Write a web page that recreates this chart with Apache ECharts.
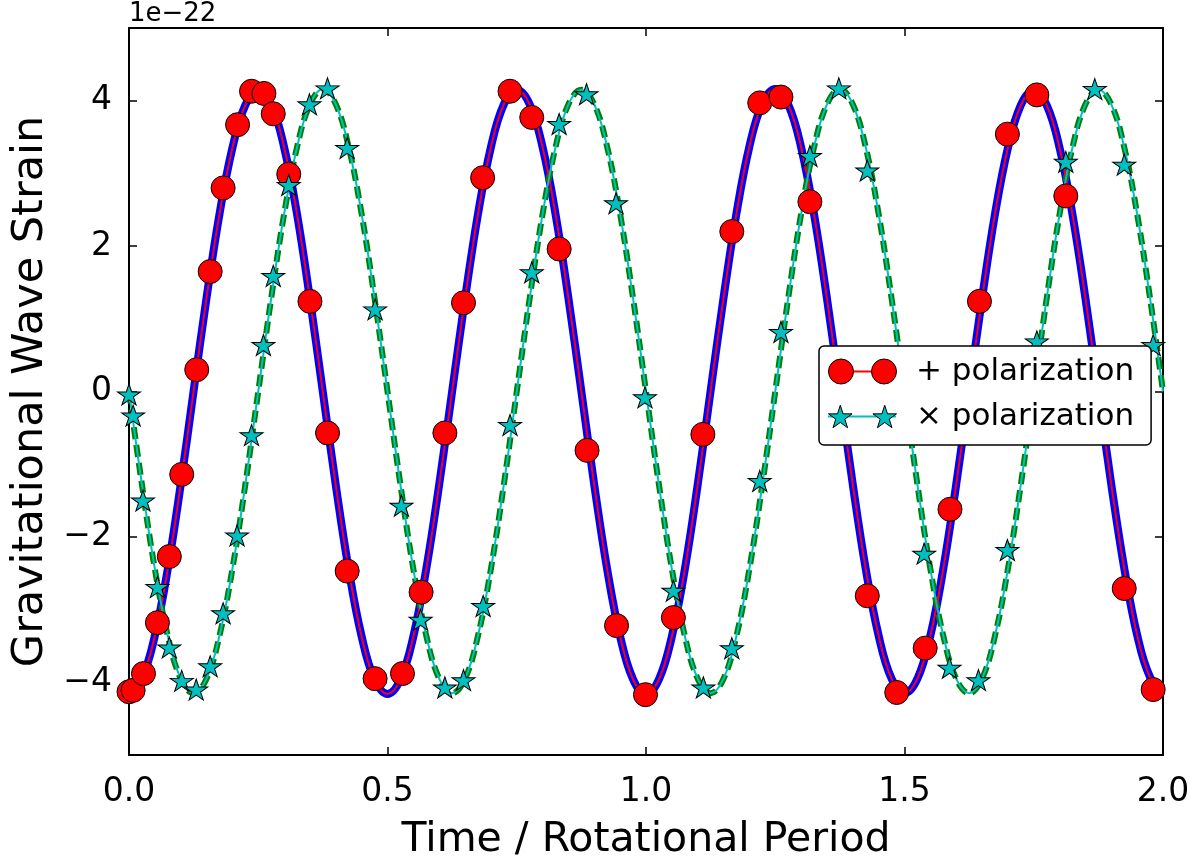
<!DOCTYPE html>
<html>
<head>
<meta charset="utf-8">
<script src="https://cdn.jsdelivr.net/npm/echarts/dist/echarts.min.js"></script>
<style>
  html, body { margin: 0; padding: 0; background: #ffffff; }
  #chart { width: 1198px; height: 866px; }
</style>
</head>
<body>
<div id="chart"></div>
<script>
// ---- data (values in units of 1e-22) ----
const curveTime = [0, 0.025, 0.05, 0.075, 0.1, 0.125, 0.15, 0.175, 0.2, 0.225,
  0.25, 0.275, 0.3, 0.325, 0.35, 0.375, 0.4, 0.425, 0.45, 0.475,
  0.5, 0.525, 0.55, 0.575, 0.6, 0.625, 0.65, 0.675, 0.7, 0.725,
  0.75, 0.775, 0.8, 0.825, 0.85, 0.875, 0.9, 0.925, 0.95, 0.975,
  1.0, 1.025, 1.05, 1.075, 1.1, 1.125, 1.15, 1.175, 1.2, 1.225,
  1.25, 1.275, 1.3, 1.325, 1.35, 1.375, 1.4, 1.425, 1.45, 1.475,
  1.5, 1.525, 1.55, 1.575, 1.6, 1.625, 1.65, 1.675, 1.7, 1.725,
  1.75, 1.775, 1.8, 1.825, 1.85, 1.875, 1.9, 1.925, 1.95, 1.975, 2.0];

const plusCurve = [-4.13, -3.94, -3.36, -2.44, -1.28, 0.01, 1.29, 2.44, 3.35, 3.94,
  4.14, 3.95, 3.36, 2.44, 1.27, -0.01, -1.29, -2.45, -3.37, -3.96,
  -4.16, -3.96, -3.37, -2.44, -1.28, 0, 1.28, 2.44, 3.36, 3.95,
  4.15, 3.95, 3.36, 2.44, 1.28, 0, -1.29, -2.45, -3.37, -3.96,
  -4.17, -3.96, -3.37, -2.45, -1.28, 0.01, 1.29, 2.45, 3.37, 3.96,
  4.16, 3.95, 3.36, 2.44, 1.28, 0, -1.28, -2.44, -3.36, -3.95,
  -4.15, -3.95, -3.36, -2.44, -1.28, 0, 1.28, 2.44, 3.35, 3.94,
  4.14, 3.94, 3.35, 2.43, 1.28, 0, -1.28, -2.43, -3.35, -3.93, -4.12];

const crossCurve = [0, -1.28, -2.44, -3.36, -3.95, -4.15, -3.95, -3.36, -2.44, -1.28,
  0, 1.28, 2.44, 3.36, 3.95, 4.16, 3.95, 3.36, 2.44, 1.28,
  0, -1.28, -2.44, -3.36, -3.95, -4.15, -3.95, -3.36, -2.44, -1.28,
  0, 1.28, 2.44, 3.36, 3.95, 4.15, 3.95, 3.36, 2.44, 1.28,
  0, -1.28, -2.44, -3.36, -3.95, -4.15, -3.95, -3.36, -2.44, -1.28,
  0, 1.28, 2.44, 3.36, 3.95, 4.16, 3.95, 3.36, 2.44, 1.28,
  0, -1.28, -2.44, -3.36, -3.95, -4.15, -3.95, -3.36, -2.44, -1.28,
  0, 1.28, 2.44, 3.36, 3.95, 4.15, 3.95, 3.36, 2.44, 1.28, 0];

const plusMarkTime = [0, 0.008, 0.028, 0.055, 0.078, 0.102, 0.131, 0.157, 0.182, 0.210,
  0.237, 0.261, 0.279, 0.309, 0.350, 0.384, 0.422, 0.476, 0.529, 0.565,
  0.611, 0.647, 0.684, 0.737, 0.779, 0.832, 0.886, 0.943, 0.999, 1.053,
  1.110, 1.166, 1.220, 1.261, 1.317, 1.428, 1.485, 1.540, 1.588, 1.645,
  1.699, 1.756, 1.812, 1.925, 1.981];
const plusMarkValue = [-4.13, -4.11, -3.88, -3.18, -2.27, -1.14, 0.30, 1.65, 2.80, 3.67,
  4.13, 4.10, 3.82, 2.99, 1.24, -0.57, -2.47, -3.95, -3.88, -2.76,
  -0.57, 1.22, 2.94, 4.13, 3.77, 1.96, -0.81, -3.22, -4.17, -3.11,
  -0.59, 2.20, 3.97, 4.05, 2.61, -2.81, -4.14, -3.53, -1.62, 1.24,
  3.54, 4.08, 2.69, -2.71, -4.10];

const crossMarkTime = [0, 0.008, 0.027, 0.055, 0.078, 0.102, 0.130, 0.157, 0.182, 0.209,
  0.237, 0.260, 0.279, 0.309, 0.349, 0.384, 0.422, 0.476, 0.527, 0.564,
  0.611, 0.647, 0.685, 0.737, 0.779, 0.832, 0.885, 0.942, 0.998, 1.053,
  1.111, 1.166, 1.220, 1.261, 1.317, 1.373, 1.428, 1.538, 1.587, 1.643,
  1.699, 1.756, 1.812, 1.868, 1.925, 1.981];
const crossMarkValue = [-0.04, -0.33, -1.50, -2.69, -3.52, -3.98, -4.10, -3.78, -3.05, -1.98,
  -0.60, 0.64, 1.59, 2.84, 3.95, 4.17, 3.35, 1.13, -1.57, -3.14,
  -4.07, -3.97, -2.95, -0.46, 1.64, 3.68, 4.09, 2.59, -0.08, -2.74,
  -4.07, -3.53, -1.23, 0.82, 3.24, 4.17, 3.04, -2.23, -3.80, -3.97,
  -2.18, 0.69, 3.16, 4.16, 3.12, 0.64];

const xTickValues = [0, 0.5, 1.0, 1.5, 2.0];
const yTickValues = [-4, -2, 0, 2, 4];
const seriesNames = ['+ polarization', '\u00d7 polarization'];
const axisTitles = { x: 'Time / Rotational Period', y: 'Gravitational Wave Strain', offset: '1e\u221222' };

// ---- build ----
const pairs = (xs, ys) => xs.map((x, i) => [x, ys[i]]);
const FONT = 'DejaVu Sans';
const STAR = 'path://M11.41,0 L14.1,8.29 L22.82,8.29 L15.77,13.42 L18.46,21.71 L11.41,16.58 L4.36,21.71 L7.05,13.42 L0,8.29 L8.72,8.29 Z';
const STAR_PAIR = 'path://M11.41,0 L14.1,8.29 L22.82,8.29 L15.77,13.42 L18.46,21.71 L11.41,16.58 L4.36,21.71 L7.05,13.42 L0,8.29 L8.72,8.29 Z M54.41,0 L57.1,8.29 L65.82,8.29 L58.77,13.42 L61.46,21.71 L54.41,16.58 L47.36,21.71 L50.05,13.42 L43,8.29 L51.72,8.29 Z';
const CIRCLE_PAIR = 'path://M0,12.5a12.5,12.5 0 1,0 25,0a12.5,12.5 0 1,0 -25,0z M43,12.5a12.5,12.5 0 1,0 25,0a12.5,12.5 0 1,0 -25,0z';
const minus = v => (v < 0 ? '\u2212' + Math.abs(v) : String(v));

const axisLineStyle = { show: true, onZero: false, lineStyle: { color: '#000', width: 2 } };
const tickStyle = { show: true, inside: true, length: 8, lineStyle: { color: '#000', width: 1.5 } };

const chart = echarts.init(document.getElementById('chart'), null, { renderer: 'canvas' });
chart.setOption({
  animation: false,
  backgroundColor: '#ffffff',
  grid: { left: 129, right: 35, top: 28, bottom: 103, containLabel: false },
  xAxis: [
    {
      type: 'value', position: 'bottom', min: 0, max: 2, interval: 0.5,
      axisLine: axisLineStyle, axisTick: tickStyle, splitLine: { show: false },
      axisLabel: { fontSize: 33, fontFamily: FONT, color: '#000', margin: 21,
        formatter: v => v.toFixed(1) },
      name: axisTitles.x, nameLocation: 'middle', nameGap: 65,
      nameTextStyle: { fontSize: 41, fontFamily: FONT, color: '#000' }
    },
    {
      type: 'value', position: 'top', min: 0, max: 2, interval: 0.5,
      axisLine: axisLineStyle, axisTick: tickStyle, splitLine: { show: false },
      axisLabel: { show: false }
    }
  ],
  yAxis: [
    {
      type: 'value', position: 'left', min: -5, max: 5,
      axisLine: axisLineStyle,
      axisTick: Object.assign({}, tickStyle, { customValues: yTickValues }),
      splitLine: { show: false },
      axisLabel: { fontSize: 33, fontFamily: FONT, color: '#000', margin: 17,
        customValues: yTickValues, formatter: v => minus(v) },
      name: axisTitles.y, nameLocation: 'middle', nameGap: 76, nameRotate: 90,
      nameTextStyle: { fontSize: 43, fontFamily: FONT, color: '#000' }
    },
    {
      type: 'value', position: 'right', min: -5, max: 5,
      axisLine: axisLineStyle,
      axisTick: Object.assign({}, tickStyle, { customValues: yTickValues }),
      splitLine: { show: false },
      axisLabel: { show: false }
    },
    {
      type: 'value', position: 'left', min: -5, max: 5,
      axisLine: { show: false }, axisTick: { show: false }, axisLabel: { show: false },
      splitLine: { show: false },
      name: axisTitles.offset, nameLocation: 'end', nameGap: 1,
      nameTextStyle: { fontSize: 26, fontFamily: FONT, color: '#000', align: 'left', verticalAlign: 'bottom' }
    }
  ],
  legend: [
    {
      data: seriesNames, orient: 'vertical', left: 819, top: 346,
      padding: [10, 17, 13, 9], itemGap: 14, itemWidth: 68, itemHeight: 2, icon: 'rect',
      backgroundColor: '#fff', borderColor: '#000', borderWidth: 1.5, borderRadius: 5,
      itemStyle: { borderWidth: 0 },
      textStyle: { fontSize: 31, fontFamily: FONT, color: '#000', padding: [0, 0, 0, 15] },
      selectedMode: false, z: 4
    },
    {
      data: [{ name: 'plus markers', icon: CIRCLE_PAIR }, { name: 'cross markers', icon: STAR_PAIR }],
      orient: 'vertical', left: 819, top: 346,
      padding: [10, 17, 13, 9], itemGap: 14, itemWidth: 68, itemHeight: 25,
      itemStyle: { borderColor: '#000', borderWidth: 1 },
      formatter: n => (n === 'plus markers' ? seriesNames[0] : seriesNames[1]),
      textStyle: { fontSize: 31, fontFamily: FONT, color: 'rgba(0,0,0,0)', padding: [0, 0, 0, 15] },
      selectedMode: false, z: 5
    }
  ],
  series: [
    {
      name: 'plus model', type: 'line', data: pairs(curveTime, plusCurve),
      smooth: 0.4, symbol: 'none', clip: true,
      lineStyle: { color: '#0000ff', width: 8 }, itemStyle: { color: '#0000ff' }, z: 2
    },
    {
      name: 'cross model', type: 'line', data: pairs(curveTime, crossCurve),
      smooth: 0.4, symbol: 'none', clip: true,
      lineStyle: { color: '#008000', width: 6, type: [12, 6], cap: 'butt' }, itemStyle: { color: '#008000' }, z: 2
    },
    {
      name: seriesNames[0], type: 'line', data: pairs(curveTime, plusCurve),
      smooth: 0.4, symbol: 'none', clip: true,
      lineStyle: { color: '#ff0000', width: 2 }, itemStyle: { color: '#ff0000' }, z: 2
    },
    {
      name: 'plus markers', type: 'scatter', data: pairs(plusMarkTime, plusMarkValue),
      symbol: 'circle', symbolSize: 24,
      itemStyle: { color: '#ff0000', borderColor: '#000', borderWidth: 1, opacity: 1 }, z: 2
    },
    {
      name: seriesNames[1], type: 'line', data: pairs(curveTime, crossCurve),
      smooth: 0.4, symbol: 'none', clip: true,
      lineStyle: { color: '#00bfbf', width: 2 }, itemStyle: { color: '#00bfbf' }, z: 2
    },
    {
      name: 'cross markers', type: 'scatter', data: pairs(crossMarkTime, crossMarkValue),
      symbol: STAR, symbolSize: [23, 22], symbolKeepAspect: true,
      itemStyle: { color: '#00bfbf', borderColor: '#000', borderWidth: 1, opacity: 1 }, z: 2
    }
  ]
});
</script>
</body>
</html>
